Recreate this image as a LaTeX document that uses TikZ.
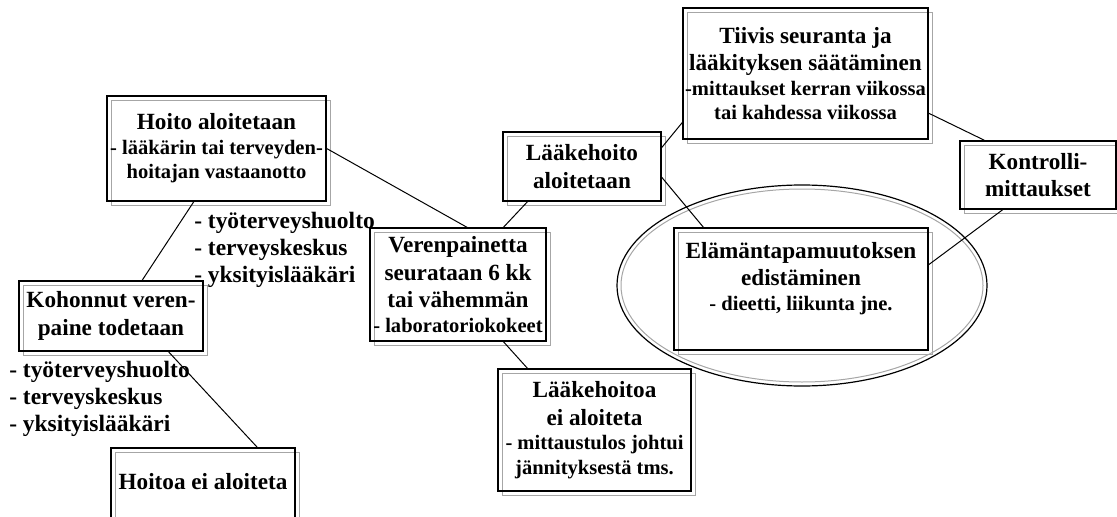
\documentclass[tikz,border=0pt]{standalone}
\usepackage{fontspec}
\setmainfont{Liberation Serif}
\usetikzlibrary{calc}
\newcommand\titlefont{\bfseries\fontsize{17.4pt}{20.6pt}\selectfont}
\newcommand\subfont{\fontsize{15.4pt}{18pt}\selectfont}
\begin{document}
\begin{tikzpicture}[
            x=0.75pt, y=-0.75pt,
            box/.style={draw, line width=1pt, inner sep=0pt, align=center, font=\titlefont,
                preaction={draw=gray!70, line width=.75pt, transform canvas={shift={(3.4pt,-3.4pt)}}}},
            lista/.style={align=left, inner sep=0pt, anchor=north west,
                font=\bfseries\fontsize{17.6pt}{20.25pt}\selectfont},
            link/.style={line width=.75pt}]
            \useasboundingbox (0,0) rectangle (1117,517);

            \draw[line width=.9pt] (802,285.5) ellipse [x radius=185, y radius=100.5];
            \draw[gray!70, line width=.75pt] (802,285.5) ellipse [x radius=181, y radius=96.5];

            \node [box, minimum width=164.25pt, minimum height=78.75pt] (hoito) at (216.5,148.5)
                {Hoito aloitetaan\\[-2.2pt]{\subfont - lääkärin tai terveyden-}\\[-2.2pt]{\subfont hoitajan vastaanotto}};
            \node [box, minimum width=138pt, minimum height=52.5pt] (kohonnut) at (111,316)
                {Kohonnut veren-\\paine todetaan};
            \node [box, minimum width=138pt, minimum height=69pt, text depth=19.5pt] (eihoito) at (203,494)
                {Hoitoa ei aloiteta};
            \node [box, minimum width=132pt, minimum height=84.75pt] (seuranta) at (458,284.5)
                {Verenpainetta\\seurataan 6 kk\\tai vähemmän\\[-2.2pt]{\subfont - laboratoriokokeet}};
            \node [box, minimum width=118.5pt, minimum height=51.75pt] (laake) at (582,166.5)
                {Lääkehoito\\aloitetaan};
            \node [box, minimum width=144.75pt, minimum height=91.5pt] (eilaake) at (594.5,430)
                {Lääkehoitoa\\ei aloiteta\\[-2.2pt]{\subfont - mittaustulos johtui}\\[-2.2pt]{\subfont jännityksestä tms.}};
            \node [box, minimum width=183.75pt, minimum height=98.25pt] (tiivis) at (805.5,73.5)
                {Tiivis seuranta ja\\lääkityksen säätäminen\\[-2.2pt]{\subfont -mittaukset kerran viikossa}\\[-2.2pt]{\subfont tai kahdessa viikossa}};
            \node [box, minimum width=117pt, minimum height=51pt] (kontrolli) at (1038,175)
                {Kontrolli-\\mittaukset};
            \node [box, minimum width=190.5pt, minimum height=91.5pt, text depth=19.5pt] (elama) at (801,289)
                {Elämäntapamuutoksen\\edistäminen\\[-2.2pt]{\subfont - dieetti, liikunta jne.}};

            \node [lista] (paikat1) at (194,212) {- työterveyshuolto\\- terveyskeskus\\- yksityislääkäri};
            \node [lista] (paikat2) at (9,361) {- työterveyshuolto\\- terveyskeskus\\- yksityislääkäri};

            \draw [link] ($(hoito.south west)!.397!(hoito.south east)$) -- ($(kohonnut.north west)!.668!(kohonnut.north east)$);
            \draw [link] (hoito.east) -- ($(seuranta.north west)!.551!(seuranta.north east)$);
            \draw [link] ($(kohonnut.south west)!.81!(kohonnut.south east)$) -- ($(eihoito.north west)!.793!(eihoito.north east)$);
            \draw [link] ($(seuranta.north west)!.756!(seuranta.north east)$) -- ($(laake.south west)!.158!(laake.south east)$);
            \draw [link] ($(seuranta.south west)!.756!(seuranta.south east)$) -- ($(eilaake.north west)!.155!(eilaake.north east)$);
            \draw [link] ($(laake.north east)!.232!(laake.south east)$) -- ($(tiivis.north west)!.87!(tiivis.south west)$);
            \draw [link] ($(laake.north east)!.652!(laake.south east)$) -- ($(elama.north west)!.118!(elama.north east)$);
            \draw [link] ($(tiivis.north east)!.80!(tiivis.south east)$) -- ($(kontrolli.north west)!.16!(kontrolli.north east)$);
            \draw [link] ($(kontrolli.south west)!.276!(kontrolli.south east)$) -- ($(elama.north east)!.303!(elama.south east)$);

        \end{tikzpicture}
\end{document}
